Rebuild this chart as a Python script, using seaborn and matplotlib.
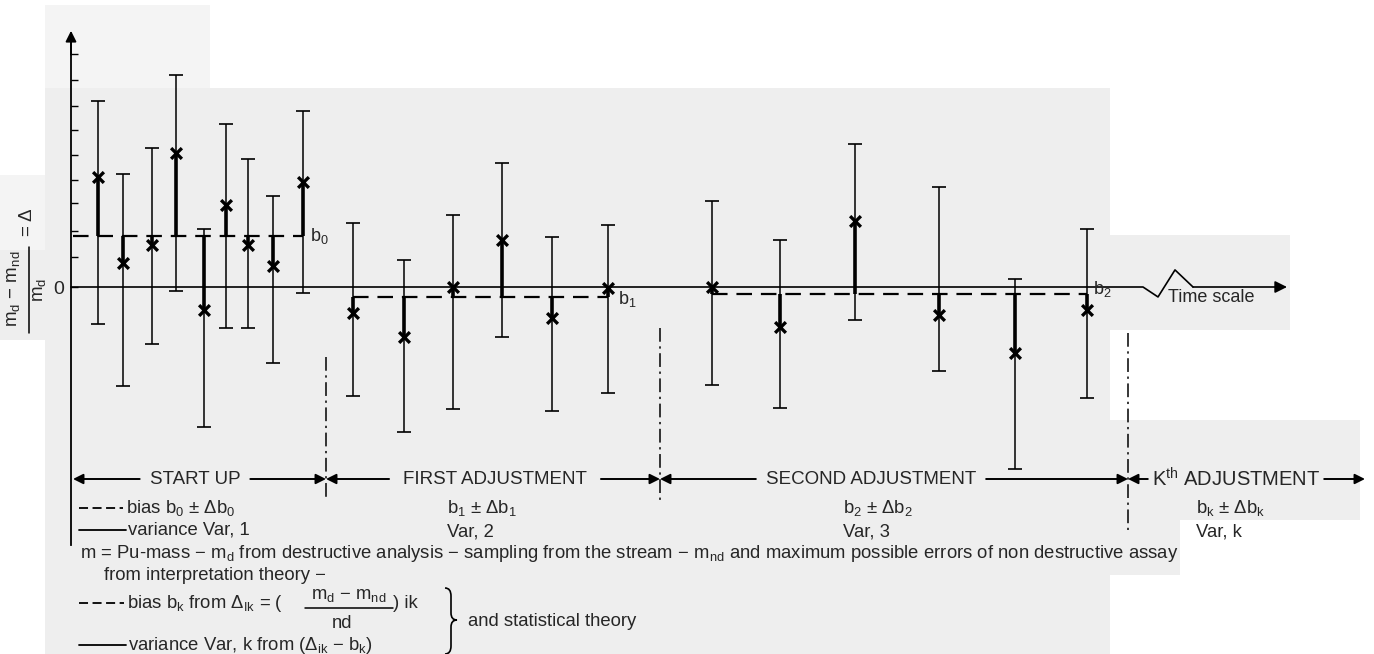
import matplotlib
matplotlib.use("Agg")
import matplotlib.pyplot as plt
import seaborn as sns
import numpy as np
import pandas as pd
from matplotlib import font_manager
from matplotlib.path import Path
from matplotlib.patches import PathPatch, Rectangle

# ---------------- data ----------------
start_t = [98, 123, 152, 176, 204, 226, 248, 273, 303]
start_v = [4.33, 0.94, 1.65, 5.25, -0.90, 3.22, 1.65, 0.82, 4.12]
start_hi = [7.29, 4.43, 5.45, 8.31, 2.27, 6.39, 5.02, 3.57, 6.90]
start_lo = [-1.45, -3.88, -2.24, -0.16, -5.49, -1.61, -1.61, -2.98, -0.24]
b0 = 2.0

first_t = [353, 404, 453, 502, 552, 608]
first_v = [-1.02, -1.96, 0.0, 1.84, -1.22, -0.04]
first_hi = [2.51, 1.06, 2.82, 4.86, 1.96, 2.43]
first_lo = [-4.27, -5.69, -4.78, -1.96, -4.86, -4.16]
b1 = -0.39

second_t = [712, 780, 855, 939, 1015, 1087]
second_v = [0.0, -1.57, 2.59, -1.10, -2.59, -0.90]
second_hi = [3.37, 1.84, 5.61, 3.92, 0.31, 2.27]
second_lo = [-3.84, -4.75, -1.29, -3.29, -7.14, -4.35]
b2 = -0.27

bias_names = ["b$_0$", "b$_1$", "b$_2$"]
phase_names = ["START UP", "FIRST ADJUSTMENT", "SECOND ADJUSTMENT", "K$^{th}$ ADJUSTMENT"]
phase_bounds = [73, 326, 660, 1128, 1365]
phase_bias_text = ["b$_1$ ± Δb$_1$", "b$_2$ ± Δb$_2$", "b$_k$ ± Δb$_k$"]
phase_var_text = ["Var, 2", "Var, 3", "Var, k"]
ytick_vals = [1.18, 2.2, 3.29, 4.2, 5.18, 6.16, 7.1, 8.12, 9.14]

# ---------------- style ----------------
sns.set_theme(style="white")
names = {f.name for f in font_manager.fontManager.ttflist}
FAM = "Liberation Sans Narrow" if "Liberation Sans Narrow" in names else "Liberation Sans"
plt.rcParams["font.family"] = [FAM, "DejaVu Sans"]
plt.rcParams["mathtext.fontset"] = "custom"
plt.rcParams["mathtext.rm"] = FAM
plt.rcParams["mathtext.it"] = FAM
plt.rcParams["mathtext.bf"] = FAM
plt.rcParams["mathtext.default"] = "regular"

W, H = 1374, 654
Z0, U = 287.0, 25.5          # pixel row of the zero line, pixels per unit
YAX = 71                     # time origin (y axis position)

def P(x, y):
    return (x / W, 1 - y / H)

fig = plt.figure(figsize=(W / 100, H / 100), dpi=100)
fig.patch.set_facecolor("white")
ax = fig.add_axes([0, 0, 1, 1])
ax.set_xlim(0, W)
ax.set_ylim((Z0 - H) / U, Z0 / U)
ax.set_facecolor("none")

# scanned-paper grey patches
for (x0, y0, x1, y1, c) in [(45, 88, 1110, 654, "#eeeeee"), (45, 5, 210, 88, "#f4f4f4"),
                            (1110, 420, 1360, 520, "#eeeeee"), (1110, 520, 1180, 575, "#eeeeee"),
                            (1110, 235, 1290, 330, "#eeeeee"), (0, 175, 45, 250, "#f4f4f4"),
                            (0, 250, 45, 340, "#eeeeee")]:
    ax.add_patch(Rectangle(P(x0, y1), (x1 - x0) / W, (y1 - y0) / H, transform=ax.transAxes,
                           facecolor=c, edgecolor="none", zorder=0))

# ---------------- y axis via spine ----------------
for s in ["top", "right", "bottom"]:
    ax.spines[s].set_visible(False)
ax.spines["left"].set_position(("data", YAX))
ax.spines["left"].set_bounds((Z0 - 545) / U, 9.6)
ax.spines["left"].set_color("black")
ax.spines["left"].set_linewidth(1.3)
ax.set_xticks([])
ax.set_yticks([0] + ytick_vals)
ax.set_yticklabels(["0"] + [""] * len(ytick_vals))
ax.tick_params(axis="y", direction="in", length=5, width=1.0, color="black",
               labelsize=14, pad=5, left=True)
ax.annotate("", xy=(YAX, (Z0 - 28) / U), xytext=(YAX, 9.0),
            arrowprops=dict(arrowstyle="-|>", color="black", lw=1.3, mutation_scale=16))

# zero / time axis with break
brk_t = [YAX, 1143, 1158, 1175, 1193]
brk_v = [0, 0, -0.39, 0.67, 0.0]
ax.plot(brk_t, brk_v, color="black", lw=1.2, zorder=3)
ax.annotate("", xy=(1287, 0.0), xytext=(1193, 0.0),
            arrowprops=dict(arrowstyle="-|>", color="black", lw=1.2, mutation_scale=18,
                            shrinkA=0, shrinkB=0))
ax.text(*P(1168, 297), "Time scale", transform=ax.transAxes, fontsize=13, va="center", ha="left")

# ---------------- measurements ----------------
phases = [(start_t, start_v, start_lo, start_hi, b0),
          (first_t, first_v, first_lo, first_hi, b1),
          (second_t, second_v, second_lo, second_hi, b2)]
frames = []
for i, (t, v, lo, hi, b) in enumerate(phases):
    frames.append(pd.DataFrame({"t": t, "v": v, "lo": lo, "hi": hi, "bias": b, "phase": i}))
df = pd.concat(frames, ignore_index=True)

ax.errorbar(df["t"], df["v"], yerr=[df["v"] - df["lo"], df["hi"] - df["v"]], fmt="none",
            ecolor="black", elinewidth=1.1, capsize=4.7, capthick=1.2, zorder=4)
ax.vlines(df["t"], df["v"], df["bias"], color="black", lw=2.6, zorder=5)
sns.scatterplot(data=df, x="t", y="v", marker="x", color="black", s=60, linewidth=2.4,
                ax=ax, legend=False, zorder=6)
ax.set_xlabel("")
ax.set_ylabel("")

label_off = [(7, 0.0), (10, -0.1), (6, 0.18)]
for i, (t, v, lo, hi, b) in enumerate(phases):
    xs = YAX + 2 if i == 0 else t[0]
    ax.plot([xs, t[-1]], [b, b], color="black", lw=1.6, ls=(0, (7, 4)), zorder=4)
    ax.text(t[-1] + label_off[i][0], b + label_off[i][1], bias_names[i], fontsize=13,
            va="center", ha="left")

# phase separators (dash-dot)
sep_top = [357, 328, 333]
sep_bot = [500, 500, 530]
for x, a, bb in zip(phase_bounds[1:4], sep_top, sep_bot):
    ax.plot([x, x], [(Z0 - a) / U, (Z0 - bb) / U], color="black", lw=1.1,
            ls=(0, (9, 3, 1.5, 3)), zorder=3)

# ---------------- y label (rotated fraction) ----------------
ax.text(*P(14, 289), "m$_d$ − m$_{nd}$", transform=ax.transAxes, rotation=90,
        fontsize=13.5, ha="center", va="center")
ax.plot([29 / W, 29 / W], [1 - 247 / H, 1 - 333 / H], transform=ax.transAxes, color="black", lw=1.1)
ax.text(*P(40, 290), "m$_d$", transform=ax.transAxes, rotation=90,
        fontsize=13.5, ha="center", va="center")
ax.text(*P(28, 222), "= Δ", transform=ax.transAxes, rotation=90,
        fontsize=13.5, ha="center", va="center")

# ---------------- phase arrows row ----------------
row = 479
centers = [195, 495, 871, 1236]
psizes = [13.5, 13.5, 13.5, 14.5]
txts = []
for name, cx, fsz in zip(phase_names, centers, psizes):
    txts.append(ax.text(*P(cx, row), name, transform=ax.transAxes, fontsize=fsz,
                        ha="center", va="center"))
fig.canvas.draw()
r = fig.canvas.get_renderer()
gaps = [10, 14, 10, 4]
ap = dict(arrowstyle="-|>", color="black", lw=1.4, mutation_scale=15, shrinkA=0, shrinkB=0)
yr = H - row
for i, tx in enumerate(txts):
    bb = tx.get_window_extent(r)
    left, right = phase_bounds[i], phase_bounds[i + 1]
    g = gaps[i]
    ax.annotate("", xy=(left, yr), xytext=(bb.x0 - g, yr), xycoords="figure pixels",
                textcoords="figure pixels", arrowprops=ap)
    ax.annotate("", xy=(right, yr), xytext=(bb.x1 + g, yr), xycoords="figure pixels",
                textcoords="figure pixels", arrowprops=ap)

# ---------------- legend / notes ----------------
fs = 13.3
def legline(x0, x1, y, dashed):
    ax.plot([x0 / W, x1 / W], [1 - y / H, 1 - y / H], transform=ax.transAxes, color="black",
            lw=1.3, ls=(0, (5, 2.5)) if dashed else "-")

legline(79, 123, 508, True)
ax.text(*P(126, 508), "bias b$_0$ ± Δb$_0$", transform=ax.transAxes, fontsize=fs, va="center")
legline(79, 126, 530, False)
ax.text(*P(128, 530), "variance Var, 1", transform=ax.transAxes, fontsize=fs, va="center")
for cx, bt, vt in zip([447, 843, 1196], phase_bias_text, phase_var_text):
    ax.text(*P(cx, 508), bt, transform=ax.transAxes, fontsize=fs, va="center")
    ax.text(*P(cx, 532), vt, transform=ax.transAxes, fontsize=fs, va="center")

ax.text(*P(80, 554), "m = Pu-mass − m$_d$ from destructive analysis − sampling from the stream − "
        "m$_{nd}$ and maximum possible errors of non destructive assay",
        transform=ax.transAxes, fontsize=fs, va="center")
ax.text(*P(104, 576), "from interpretation theory −", transform=ax.transAxes, fontsize=fs, va="center")

legline(79, 124, 603, True)
t1 = ax.text(*P(127, 603), "bias b$_k$ from Δ$_{Ik}$ = (", transform=ax.transAxes, fontsize=fs,
             va="center")
ax.text(*P(349, 596), "m$_d$ − m$_{nd}$", transform=ax.transAxes, fontsize=fs, va="center",
        ha="center")
ax.plot([305 / W, 393 / W], [1 - 608 / H] * 2, transform=ax.transAxes, color="black", lw=1.1)
ax.text(*P(342, 623), "nd", transform=ax.transAxes, fontsize=fs, va="center", ha="center")
ax.text(*P(393, 603), ") ik", transform=ax.transAxes, fontsize=fs, va="center")

legline(79, 126, 645, False)
ax.text(*P(128, 645), "variance Var, k from (Δ$_{ik}$ − b$_k$)", transform=ax.transAxes,
        fontsize=fs, va="center")

# brace
bx, by0, by1 = 445, 588, 654
verts = [P(bx, by0), P(bx + 6, by0), P(bx + 6, by0 + 8),
         P(bx + 6, 613), P(bx + 6, 620), P(bx + 12, 620),
         P(bx + 6, 620), P(bx + 6, 627),
         P(bx + 6, by1 - 8), P(bx + 6, by1), P(bx, by1)]
codes = [Path.MOVETO, Path.CURVE3, Path.CURVE3, Path.LINETO, Path.CURVE3, Path.CURVE3,
         Path.CURVE3, Path.CURVE3, Path.LINETO, Path.CURVE3, Path.CURVE3]
ax.add_patch(PathPatch(Path(verts, codes), transform=ax.transAxes, fill=False, lw=1.2,
                       edgecolor="black"))
ax.text(*P(468, 621), "and statistical theory", transform=ax.transAxes, fontsize=fs, va="center")

fig.savefig("out.png", dpi=100)
